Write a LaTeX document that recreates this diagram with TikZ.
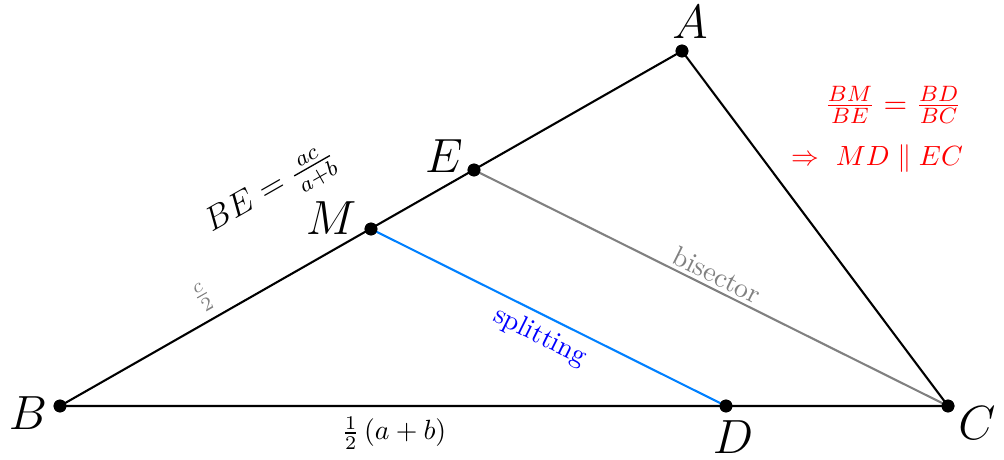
\documentclass[tikz,border=0pt]{standalone}
\usepackage{amsmath}
\begin{document}
\begin{tikzpicture}[x=0.36pt,y=-0.36pt,
  pt/.style={circle,fill=black,inner sep=0pt,minimum size=4.6pt},
  side/.style={line width=0.75pt,black},
  ptlabel/.style={font=\LARGE},
  slabel/.style={inner sep=0pt}]
\definecolor{splitblue}{rgb}{0,0.5,1}
\useasboundingbox (0,0) rectangle (1004,460);
% points
\node[pt] (B) at (60,406) {};
\node[pt] (C) at (948,406) {};
\node[pt] (A) at (682,51) {};
\node[pt] (E) at (474,170) {};
\node[pt] (M) at (371,229) {};
\node[pt] (D) at (726,406) {};
% cevians
\draw[line width=0.75pt,gray] (E.center) -- (C.center);
\draw[line width=0.75pt,splitblue] (M.center) -- (D.center);
% triangle
\draw[side,line join=round] (B.center) -- (A.center) -- (C.center) -- cycle;
% redraw points on top
\foreach \p in {A,B,C,D,E,M} \fill (\p.center) circle (2.3pt);
% point labels
\node[ptlabel] (lA) at (690,22) {$A$};
\node[ptlabel] (lE) at (444,156) {$E$};
\node[ptlabel] (lM) at (331,218) {$M$};
\node[ptlabel] (lB) at (28,413) {$B$};
\node[ptlabel] (lC) at (977,423) {$C$};
\node[ptlabel] (lD) at (733,437) {$D$};
% side labels
\node[slabel,rotate=29.7,font=\large] (lBE) at (272,193) {$BE=\frac{ac}{a+b}$};
\node[slabel,rotate=29.7,font=\normalsize,text=gray] (lc2) at (203,297) {$\frac{c}{2}$};
\node[slabel] (lab) at (394,433) {$\frac12\,(a+b)$};
\node[slabel,rotate=-26.5,text=gray] (lbis) at (717,275) {bisector};
\node[slabel,rotate=-26.5,text=blue] (lspl) at (540,337) {splitting};
% red text
\node[slabel,text=red,font=\fontsize{11}{13}\selectfont] (lfrac) at (893,105) {$\frac{BM}{BE}=\frac{BD}{BC}$};
\node[slabel,text=red] (limp) at (877,159) {$\Rightarrow\ MD\parallel EC$};
\end{tikzpicture}
\end{document}
